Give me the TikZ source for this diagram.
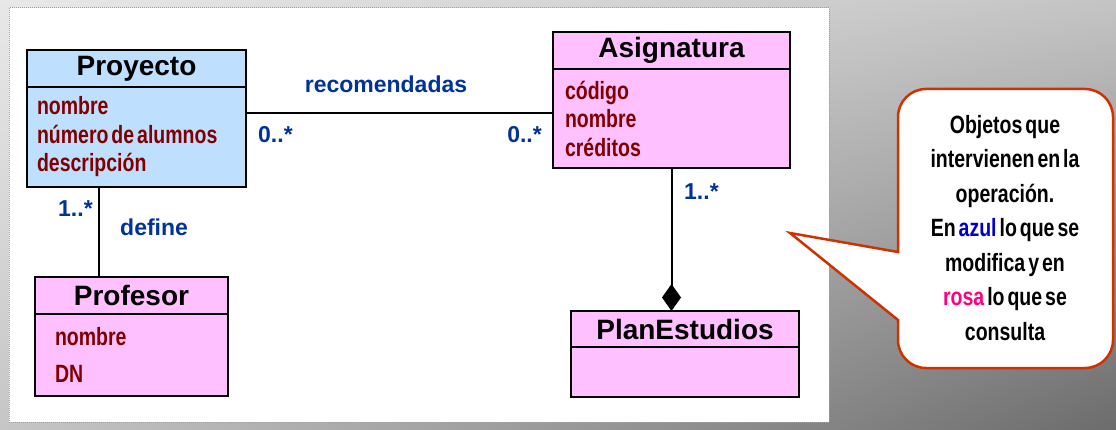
\documentclass[tikz,border=0pt]{standalone}
\usepackage{fontspec}
\setmainfont{Liberation Sans}
\newfontfamily\estrecha[FakeStretch=0.78,WordSpace=0.55]{Liberation Sans}
\usetikzlibrary{arrows.meta,positioning,calc,shadings}
\definecolor{azulClase}{RGB}{191,223,255}
\definecolor{rosaClase}{RGB}{255,192,255}
\definecolor{granate}{RGB}{128,0,0}
\definecolor{azulRol}{RGB}{0,51,153}
\definecolor{bordeNota}{RGB}{204,51,0}
\definecolor{bordePanel}{RGB}{140,165,175}
\definecolor{azulNota}{RGB}{0,0,204}
\definecolor{rosaNota}{RGB}{255,0,128}
\definecolor{fondoA}{RGB}{232,232,232}
\definecolor{fondoB}{RGB}{196,196,196}
\definecolor{fondoC}{RGB}{198,198,198}
\definecolor{fondoD}{RGB}{108,108,108}
\tikzstyle{cabecera} = [draw=black,line width=2.4pt,inner sep=0pt,outer sep=0pt,minimum height=37pt,font=\bfseries\fontsize{28}{28}\selectfont]
\tikzstyle{atributos} = [draw=black,line width=2.4pt,inner ysep=0pt,outer sep=0pt,align=flush left,text=granate,font=\estrecha\bfseries\fontsize{25}{28.5}\selectfont]
\tikzstyle{rol} = [text=azulRol,inner sep=0pt,font=\bfseries\fontsize{23}{23}\selectfont]
\tikzstyle{enlace} = [line width=2pt,draw=black]

\begin{document}
\begin{tikzpicture}[x=1pt,y=-1pt]
\useasboundingbox (0,0) rectangle (1116,430);
\shade[upper left=fondoA,upper right=fondoB,lower left=fondoC,lower right=fondoD] (0,0) rectangle (1116,430);
\draw[fill=white,draw=bordePanel,densely dotted,line width=1pt] (9,8) rectangle (829,422);

% clases
\node[cabecera,fill=azulClase,minimum width=219pt] (proyecto) at (136.5,68.5) {Proyecto};
\node[atributos,fill=azulClase,below=0pt of proyecto,inner xsep=10pt,text width=199pt,minimum height=100pt] (proyectoAtr) {nombre\\número de alumnos\\descripción};
\node[cabecera,fill=rosaClase,minimum width=237pt] (asignatura) at (671.5,50.5) {Asignatura};
\node[atributos,fill=rosaClase,below=0pt of asignatura,inner xsep=12pt,text width=213pt,minimum height=99pt] (asignaturaAtr) {código\\nombre\\créditos};
\node[cabecera,fill=rosaClase,minimum width=193pt] (profesor) at (131.5,295.5) {Profesor};
\node[atributos,fill=rosaClase,below=0pt of profesor,inner xsep=20pt,text width=153pt,minimum height=82pt] (profesorAtr) {nombre\\[8.5pt]DN};
\node[cabecera,fill=rosaClase,minimum width=228pt,minimum height=36pt] (plan) at (685,329) {PlanEstudios};
\node[atributos,fill=rosaClase,below=0pt of plan,inner xsep=12pt,text width=204pt,minimum height=50pt] (planAtr) {};

% relaciones
\draw[enlace] (proyectoAtr.north east) ++(0,26) coordinate (recA) -- (recA -| asignaturaAtr.west);
\draw[enlace] ([xshift=72pt]proyectoAtr.south west) -- ([xshift=64pt]profesor.north west);
\draw[enlace,-{Diamond[length=27pt,width=19pt]}] (asignaturaAtr.south) -- (asignaturaAtr.south |- plan.north);

\node[rol,anchor=base] (recomendadas) at (386,93) {recomendadas};
\node[rol,anchor=base west] (multA) at (258,143) {0..*};
\node[rol,anchor=base east] (multB) at (542,143) {0..*};
\node[rol,anchor=base west] (multC) at (58,217) {1..*};
\node[rol,anchor=base west] (define) at (120,236) {define};
\node[rol,anchor=base west] (multD) at (684,200) {1..*};

% nota
\draw[draw=bordeNota,fill=white,line width=2.5pt] (790,233) -- (898,320) [rounded corners=28pt] -- (898,368) -- (1113,368) -- (1113,89) -- (898,89) [sharp corners] -- (898,252) -- cycle;
\node[align=center,inner sep=0pt,font=\estrecha\bfseries\fontsize{25}{34.5}\selectfont] (nota) at (1005,228) {Objetos que\\intervienen en la\\operación.\\En \textcolor{azulNota}{azul} lo que se\\modifica y en\\\textcolor{rosaNota}{rosa} lo que se\\consulta};
\end{tikzpicture}
\end{document}
